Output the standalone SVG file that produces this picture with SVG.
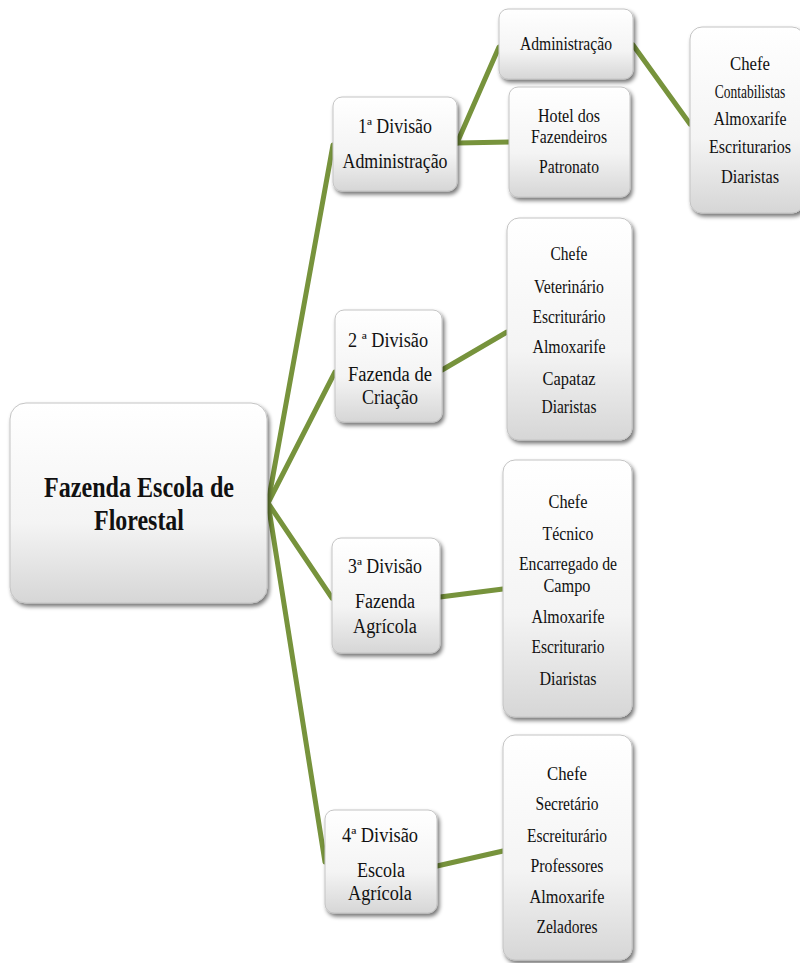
<svg xmlns="http://www.w3.org/2000/svg" width="800" height="963" viewBox="0 0 800 963">
<style>
.box{fill:url(#g);stroke:#c4c4c4;stroke-width:1;filter:url(#sh)}
.t{font-family:"Liberation Serif","DejaVu Serif",serif;font-size:18px;fill:#111;text-anchor:middle}
.d{font-size:20px}
.r{font-size:30px;font-weight:bold}
.c{fill:none;stroke:#77933c;stroke-width:5;stroke-linecap:round}
</style>
<defs>
<linearGradient id="g" x1="0" y1="0" x2="0" y2="1">
<stop offset="0" stop-color="#ffffff"/>
<stop offset="0.6" stop-color="#f4f4f4"/>
<stop offset="1" stop-color="#d6d6d6"/>
</linearGradient>
<filter id="sh" x="-10%" y="-10%" width="125%" height="125%">
<feGaussianBlur in="SourceAlpha" stdDeviation="2"/>
<feOffset dx="2" dy="3" result="b"/>
<feComponentTransfer><feFuncA type="linear" slope="0.55"/></feComponentTransfer>
<feMerge><feMergeNode/><feMergeNode in="SourceGraphic"/></feMerge>
</filter>
</defs>
<rect width="800" height="963" fill="#ffffff"/>
<g id="connectors">
<path class="c" d="M268,503 L333,145"/>
<path class="c" d="M268,503 L335,372"/>
<path class="c" d="M268,503 L332,598"/>
<path class="c" d="M268,503 L325,862"/>
<path class="c" d="M457,143 L499,47"/>
<path class="c" d="M457,143 L510,142"/>
<path class="c" d="M633,45 L690,124"/>
<path class="c" d="M442,370 L507,332"/>
<path class="c" d="M440,597 L503,589"/>
<path class="c" d="M437,866 L503,851"/>
</g>
<g id="root">
<rect class="box" x="10" y="403" width="257" height="200" rx="16"/>
<text class="t r" x="139" y="497" textLength="190" lengthAdjust="spacingAndGlyphs">Fazenda Escola de</text>
<text class="t r" x="139" y="530" textLength="90" lengthAdjust="spacingAndGlyphs">Florestal</text>
</g>
<g id="div1">
<rect class="box" x="333" y="97" width="124" height="94" rx="9"/>
<text class="t d" x="395" y="133" textLength="74" lengthAdjust="spacingAndGlyphs">1ª Divisão</text>
<text class="t d" x="395" y="168" textLength="105" lengthAdjust="spacingAndGlyphs">Administração</text>
</g>
<g id="admin">
<rect class="box" x="499" y="9" width="134" height="70" rx="9"/>
<text class="t" x="566" y="50" textLength="92" lengthAdjust="spacingAndGlyphs">Administração</text>
</g>
<g id="hotel">
<rect class="box" x="509" y="87" width="121" height="110" rx="9"/>
<text class="t" x="569" y="122" textLength="62" lengthAdjust="spacingAndGlyphs">Hotel dos</text>
<text class="t" x="569" y="143" textLength="76" lengthAdjust="spacingAndGlyphs">Fazendeiros</text>
<text class="t" x="569" y="173" textLength="60" lengthAdjust="spacingAndGlyphs">Patronato</text>
</g>
<g id="adminStaff">
<rect class="box" x="690" y="27" width="114" height="186" rx="12"/>
<text class="t" x="750" y="70" textLength="40" lengthAdjust="spacingAndGlyphs">Chefe</text>
<text class="t" transform="translate(750,98) scale(0.75,1)">Contabilistas</text>
<text class="t" x="750" y="125" textLength="73" lengthAdjust="spacingAndGlyphs">Almoxarife</text>
<text class="t" x="750" y="153" textLength="82" lengthAdjust="spacingAndGlyphs">Escriturarios</text>
<text class="t" x="750" y="183" textLength="58" lengthAdjust="spacingAndGlyphs">Diaristas</text>
</g>
<g id="div2">
<rect class="box" x="335" y="310" width="107" height="112" rx="9"/>
<text class="t d" x="388" y="347" textLength="80" lengthAdjust="spacingAndGlyphs">2 ª Divisão</text>
<text class="t d" x="390" y="381" textLength="84" lengthAdjust="spacingAndGlyphs">Fazenda de</text>
<text class="t d" x="390" y="404" textLength="56" lengthAdjust="spacingAndGlyphs">Criação</text>
</g>
<g id="div2Staff">
<rect class="box" x="507" y="218" width="125" height="222" rx="12"/>
<text class="t" x="569" y="260" textLength="37" lengthAdjust="spacingAndGlyphs">Chefe</text>
<text class="t" x="569" y="293" textLength="70" lengthAdjust="spacingAndGlyphs">Veterinário</text>
<text class="t" x="569" y="323" textLength="73" lengthAdjust="spacingAndGlyphs">Escriturário</text>
<text class="t" x="569" y="353" textLength="73" lengthAdjust="spacingAndGlyphs">Almoxarife</text>
<text class="t" x="569" y="385" textLength="53" lengthAdjust="spacingAndGlyphs">Capataz</text>
<text class="t" x="569" y="413" textLength="55" lengthAdjust="spacingAndGlyphs">Diaristas</text>
</g>
<g id="div3">
<rect class="box" x="332" y="538" width="108" height="115" rx="9"/>
<text class="t d" x="385" y="573" textLength="74" lengthAdjust="spacingAndGlyphs">3ª Divisão</text>
<text class="t d" x="385" y="608" textLength="60" lengthAdjust="spacingAndGlyphs">Fazenda</text>
<text class="t d" x="385" y="633" textLength="64" lengthAdjust="spacingAndGlyphs">Agrícola</text>
</g>
<g id="div3Staff">
<rect class="box" x="503" y="460" width="129" height="257" rx="12"/>
<text class="t" x="568" y="508" textLength="39" lengthAdjust="spacingAndGlyphs">Chefe</text>
<text class="t" x="568" y="540" textLength="51" lengthAdjust="spacingAndGlyphs">Técnico</text>
<text class="t" x="568" y="570" textLength="98" lengthAdjust="spacingAndGlyphs">Encarregado de</text>
<text class="t" x="567" y="592" textLength="47" lengthAdjust="spacingAndGlyphs">Campo</text>
<text class="t" x="568" y="623" textLength="73" lengthAdjust="spacingAndGlyphs">Almoxarife</text>
<text class="t" x="568" y="653" textLength="73" lengthAdjust="spacingAndGlyphs">Escriturario</text>
<text class="t" x="568" y="685" textLength="57" lengthAdjust="spacingAndGlyphs">Diaristas</text>
</g>
<g id="div4">
<rect class="box" x="325" y="810" width="112" height="103" rx="9"/>
<text class="t d" x="380" y="842" textLength="76" lengthAdjust="spacingAndGlyphs">4ª Divisão</text>
<text class="t d" x="381" y="877" textLength="48" lengthAdjust="spacingAndGlyphs">Escola</text>
<text class="t d" x="380" y="900" textLength="64" lengthAdjust="spacingAndGlyphs">Agrícola</text>
</g>
<g id="div4Staff">
<rect class="box" x="503" y="735" width="129" height="225" rx="12"/>
<text class="t" x="567" y="780" textLength="40" lengthAdjust="spacingAndGlyphs">Chefe</text>
<text class="t" x="567" y="810" textLength="63" lengthAdjust="spacingAndGlyphs">Secretário</text>
<text class="t" x="567" y="842" textLength="80" lengthAdjust="spacingAndGlyphs">Escreiturário</text>
<text class="t" x="567" y="872" textLength="73" lengthAdjust="spacingAndGlyphs">Professores</text>
<text class="t" x="567" y="903" textLength="75" lengthAdjust="spacingAndGlyphs">Almoxarife</text>
<text class="t" x="567" y="933" textLength="61" lengthAdjust="spacingAndGlyphs">Zeladores</text>
</g>
</svg>
